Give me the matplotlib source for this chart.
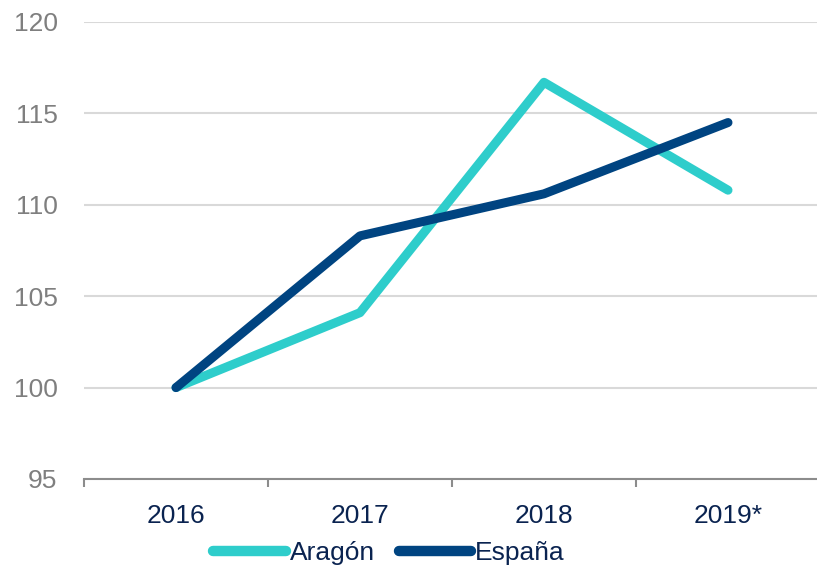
import matplotlib.pyplot as plt

years = ['2016', '2017', '2018', '2019*']
aragon = [100, 104.1, 116.7, 110.8]
espana = [100, 108.3, 110.6, 114.5]

plt.rcParams['font.family'] = ['Liberation Sans', 'DejaVu Sans']

fig = plt.figure(figsize=(8.17, 5.71), dpi=100)
ax = fig.add_axes([84 / 817, 92 / 571, 736 / 817, 457 / 571])

x = range(len(years))
ax.plot(x, aragon, color='#2ECDCB', lw=6.5, label='Aragón', solid_capstyle='round')
ax.plot(x, espana, color='#004481', lw=6.5, label='España', solid_capstyle='round')

ax.set_ylim(95, 120)
ax.set_yticks([95, 100, 105, 110, 115, 120])
ax.set_xlim(-0.5, 3.5)
ax.set_xticks(x)
ax.set_xticklabels(years)
ax.set_xticks([-0.5, 0.5, 1.5, 2.5, 3.5], minor=True)

ax.grid(axis='y', color='#D9D9D9', lw=1.5)
ax.set_axisbelow(True)
for s in ['top', 'right', 'left']:
    ax.spines[s].set_visible(False)
ax.spines['bottom'].set_color('#8C8C8C')
ax.spines['bottom'].set_linewidth(1.5)

ax.tick_params(axis='y', length=0, pad=19, labelsize=19, labelcolor='#7F7F7F')
ax.tick_params(axis='x', which='major', length=0, pad=18, labelsize=19, labelcolor='#0A2350')
ax.tick_params(axis='x', which='minor', length=6, width=1.5, color='#8C8C8C')

leg = fig.legend(loc='center', bbox_to_anchor=(389 / 817, 18 / 571), ncol=2, frameon=False,
                 fontsize=19, handlelength=2.75, handletextpad=0.15, columnspacing=0.9,
                 labelcolor='#0A2350', borderpad=0)
for h in leg.get_lines():
    h.set_linewidth(7.5)

fig.savefig('out.png', dpi=100)
